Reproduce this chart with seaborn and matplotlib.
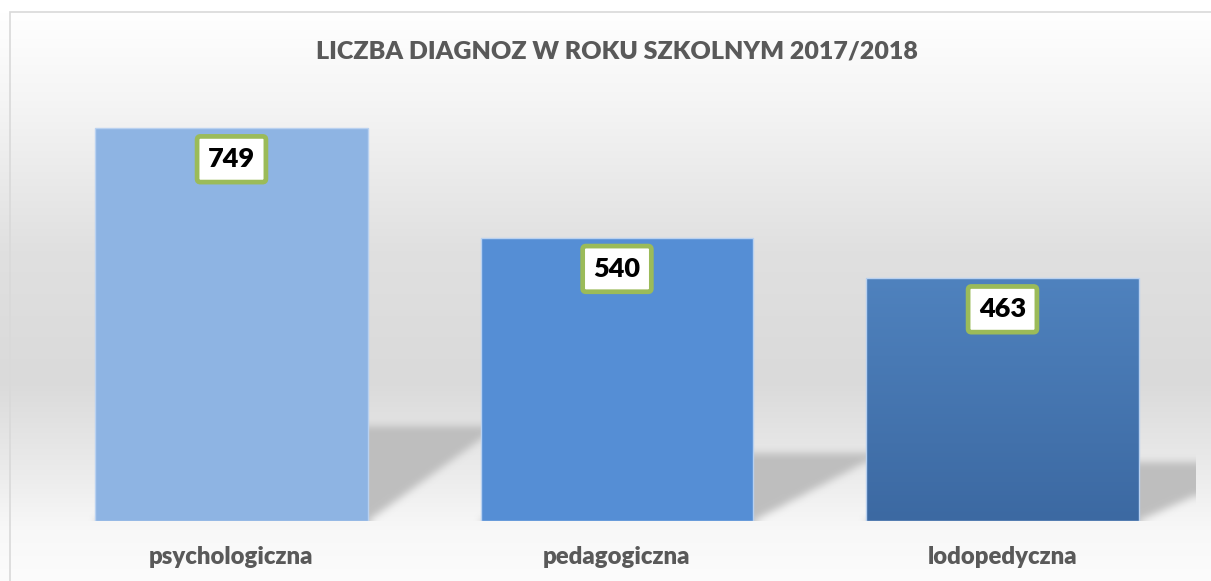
import numpy as np
import pandas as pd
import matplotlib
matplotlib.use("Agg")
import matplotlib.pyplot as plt
import seaborn as sns
from matplotlib.patches import Rectangle

categories = ["psychologiczna", "pedagogiczna", "lodopedyczna"]
values = [749, 540, 463]
title = "LICZBA DIAGNOZ W ROKU SZKOLNYM 2017/2018"
bar_colors = ["#8eb4e3", "#558ed5", "#4f81bd"]

sns.set_style("white")
plt.rcParams["font.family"] = ["Lato", "DejaVu Sans"]

W, H = 1211, 581
fig = plt.figure(figsize=(W / 100, H / 100), dpi=100)

# background gradient
ax_bg = fig.add_axes([0, 0, 1, 1], zorder=-5)
ys = np.array([0, 12, 100, 250, 380, 470, 530, 581])
gs = np.array([255, 255, 245, 224, 218, 235, 248, 252]) / 255
prof = np.interp(np.arange(H), ys, gs)
bg = np.repeat(prof[:, None, None], 3, axis=2)
ax_bg.imshow(bg, aspect="auto", extent=[0, 1, 0, 1], origin="upper")
ax_bg.set_axis_off()
fig.patches.append(Rectangle((10 / W, -0.1), 1.2, 1 - 12 / H + 0.1, transform=fig.transFigure,
                             fill=False, edgecolor="#d9d9d9", linewidth=1.2, zorder=-4))

# main axes
px_per_unit = 393 / 749
ymax = 800
left_px, right_px, base_px = 38.75, 1195.25, 521
ax = fig.add_axes([left_px / W, (H - base_px) / H, (right_px - left_px) / W, ymax * px_per_unit / H])
ax.set_facecolor("none")

df = pd.DataFrame({"cat": categories, "val": values})
sns.barplot(data=df, x="cat", y="val", hue="cat", palette=bar_colors, width=0.708,
            legend=False, ax=ax, edgecolor="#b9d1f0", linewidth=1.0, saturation=1, zorder=3)
ax.set_xlim(-0.5, 2.5)
ax.set_ylim(0, ymax)

# shadows (derived from bar geometry)
nx, ny = 1157, 420
xg = np.linspace(-0.5, 2.5, nx)
yg = np.linspace(ymax, 0, ny)
X, Y = np.meshgrid(xg, yg)
mask = np.zeros_like(X)
shift = 0.337
for p in ax.patches:
    x0, w, h = p.get_x(), p.get_width(), p.get_height()
    sh = 0.24 * h
    t = Y / sh
    inside = (Y >= 0) & (Y <= sh) & (X >= x0 + shift * t) & (X <= x0 + w + shift * t)
    mask = np.maximum(mask, inside.astype(float))

def box_blur(a, k, axis):
    pad = [(0, 0), (0, 0)]
    pad[axis] = (k, k)
    ap = np.pad(a, pad, mode="edge")
    c = np.cumsum(ap, axis=axis)
    c = np.insert(c, 0, 0, axis=axis)
    n = a.shape[axis]
    sl1 = [slice(None)] * 2
    sl2 = [slice(None)] * 2
    sl1[axis] = slice(2 * k + 1, 2 * k + 1 + n)
    sl2[axis] = slice(0, n)
    return (c[tuple(sl1)] - c[tuple(sl2)]) / (2 * k + 1)

for _ in range(2):
    mask = box_blur(mask, 4, 0)
    mask = box_blur(mask, 4, 1)
rgba = np.zeros((ny, nx, 4))
rgba[..., :3] = 0.74
rgba[..., 3] = mask * 0.95
ax.imshow(rgba, extent=[-0.5, 2.5, 0, ymax], aspect="auto", zorder=1, origin="upper")
ax.set_xlim(-0.5, 2.5)
ax.set_ylim(0, ymax)

# gradient on third bar
p3 = ax.patches[2]
grad = np.linspace(0, 1, 256)[:, None]
c_top = np.array([79, 130, 190]) / 255
c_bot = np.array([60, 105, 162]) / 255
gimg = (c_top[None, None, :] * (1 - grad[..., None]) + c_bot[None, None, :] * grad[..., None])
im = ax.imshow(gimg, extent=[p3.get_x(), p3.get_x() + p3.get_width(), 0, p3.get_height()],
               aspect="auto", zorder=2.9, origin="upper")
im.set_clip_path(p3)
p3.set_facecolor("none")
ax.set_xlim(-0.5, 2.5)
ax.set_ylim(0, ymax)

# value labels
for i, v in enumerate(values):
    ax.annotate(f"{v}", xy=(i, v), xytext=(0, -22.5), textcoords="offset points",
                ha="center", va="center", fontsize=19.5, fontweight="heavy", color="black", zorder=6,
                bbox=dict(boxstyle="round,pad=0.4,rounding_size=0.12", fc="white",
                          ec="#9bbb59", lw=3.4))

for s in ax.spines.values():
    s.set_visible(False)
ax.set_yticks([])
ax.set_xlabel("")
ax.set_ylabel("")
ax.tick_params(axis="x", length=0, pad=18)
for lab in ax.get_xticklabels():
    lab.set_fontsize(17.2)
    lab.set_fontweight("heavy")
    lab.set_color("#595959")

fig.text(617 / W, 1 - 51 / H, title, ha="center", va="center", fontsize=18,
         fontweight="heavy", color="#595959")

fig.savefig("out.png", dpi=100)
